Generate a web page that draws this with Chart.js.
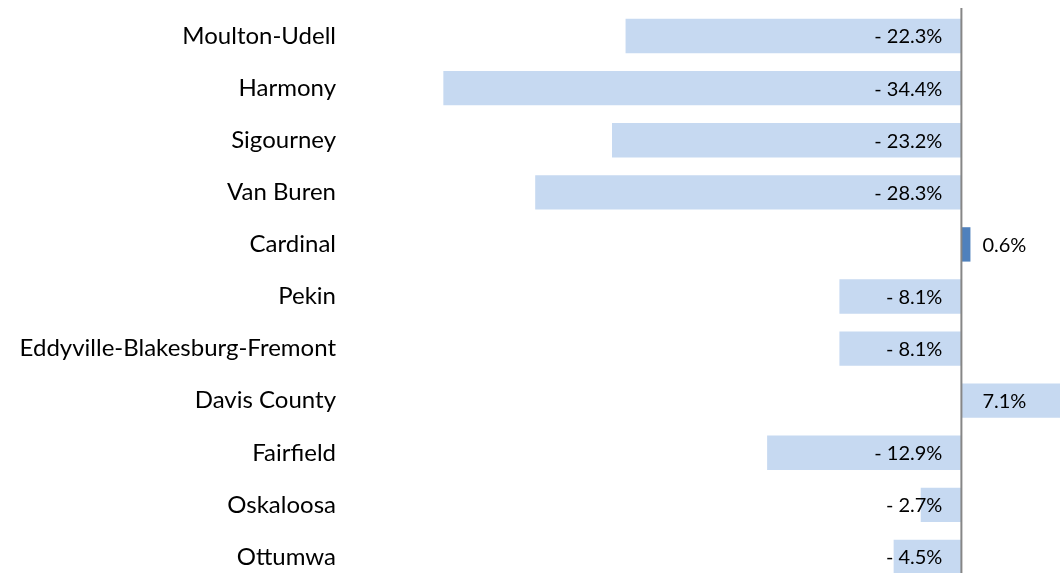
<!DOCTYPE html>
<html>
<head>
<meta charset="utf-8">
<script src="https://cdn.jsdelivr.net/npm/chart.js@4/dist/chart.umd.min.js"></script>
<style>
  html, body { margin: 0; padding: 0; background: #fff; overflow: hidden; width: 1060px; height: 573px; }
  #wrap { position: absolute; left: 0; top: 0; width: 1112px; height: 583px; }
</style>
</head>
<body>
<div id="wrap"><canvas id="myChart" width="1112" height="583"></canvas></div>
<script>
const districts = ['Moulton-Udell', 'Harmony', 'Sigourney', 'Van Buren', 'Cardinal', 'Pekin',
    'Eddyville-Blakesburg-Fremont', 'Davis County', 'Fairfield', 'Oskaloosa', 'Ottumwa'];
const change = [-22.3, -34.4, -23.2, -28.3, 0.6, -8.1, -8.1, 7.1, -12.9, -2.7, -4.5];
const barColors = ['#c6d9f1', '#c6d9f1', '#c6d9f1', '#c6d9f1', '#4f81bd', '#c6d9f1',
    '#c6d9f1', '#c6d9f1', '#c6d9f1', '#c6d9f1', '#c6d9f1'];

const fontName = 'Lato, "Liberation Sans", sans-serif';

// zero line on top of the bars + the value labels
const labelPlugin = {
    id: 'labels',
    afterDatasetsDraw(chart) {
        const c = chart.ctx;
        const xs = chart.scales.x;
        const zero = xs.getPixelForValue(0);
        c.save();
        c.strokeStyle = '#868686';
        c.lineWidth = 2;
        c.beginPath();
        c.moveTo(zero, 8);
        c.lineTo(zero, chart.chartArea.bottom);
        c.stroke();

        c.fillStyle = '#000';
        c.font = '20px ' + fontName;
        c.textBaseline = 'middle';
        const meta = chart.getDatasetMeta(0);
        meta.data.forEach((bar, i) => {
            const v = change[i];
            if (v < 0) {
                c.textAlign = 'right';
                c.fillText('- ' + Math.abs(v).toFixed(1) + '%', zero - 19, bar.y + 1);
            } else {
                c.textAlign = 'left';
                c.fillText(v.toFixed(1) + '%', zero + 21, bar.y + 1);
            }
        });
        c.restore();
    }
};

const ctx = document.getElementById('myChart').getContext('2d');
var myChart = new Chart(ctx, {
    type: 'bar',
    data: {
        labels: districts,
        datasets: [{
            data: change,
            backgroundColor: barColors,
            categoryPercentage: 1,
            barPercentage: 0.66
        }]
    },
    options: {
        indexAxis: 'y',
        responsive: false,
        animation: false,
        layout: { padding: { top: 10, left: 0, right: 0, bottom: 0 } },
        plugins: { legend: { display: false }, tooltip: { enabled: false } },
        scales: {
            x: {
                display: false,
                min: -40,
                max: 10
            },
            y: {
                grid: { display: false },
                border: { display: false },
                ticks: {
                    color: '#000',
                    font: { family: fontName, size: 24 },
                    padding: 15
                },
                afterFit(scale) {
                    scale.width = 359;
                    scale.paddingTop = 0;
                    scale.paddingBottom = 0;
                }
            }
        }
    },
    plugins: [labelPlugin]
});
</script>
</body>
</html>
